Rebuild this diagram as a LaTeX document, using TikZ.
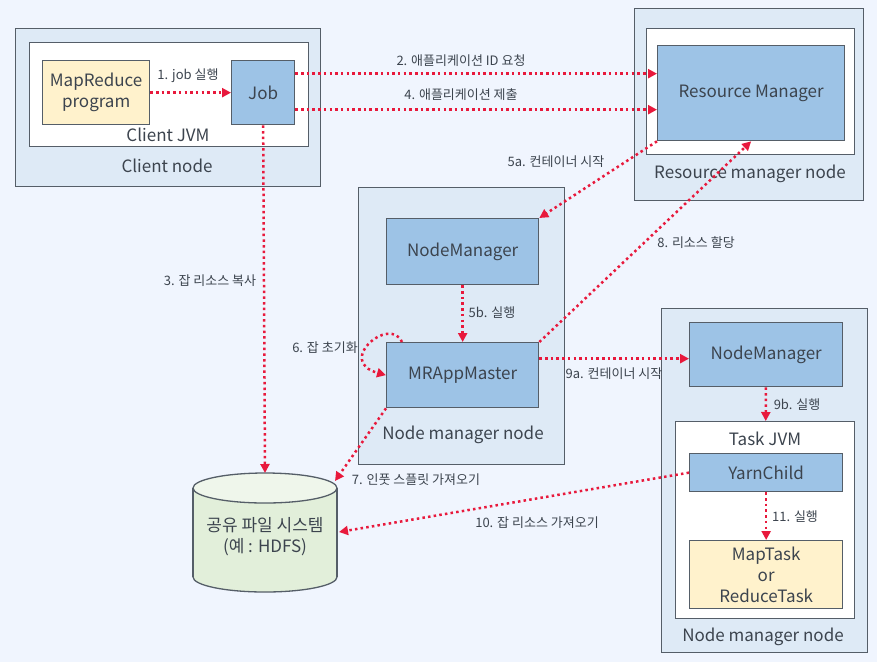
\documentclass[tikz,border=0pt]{standalone}
\usepackage{fontspec}
\setmainfont{Noto Sans CJK KR}
\usetikzlibrary{arrows.meta}

\definecolor{bgblue}{RGB}{240,245,254}
\definecolor{nodeblue}{RGB}{222,234,246}
\definecolor{compblue}{RGB}{157,195,230}
\definecolor{progyellow}{RGB}{255,242,204}
\definecolor{hdfsgreen}{RGB}{226,239,218}
\definecolor{flowred}{RGB}{232,25,60}
\definecolor{edgegray}{RGB}{85,94,104}
\definecolor{textgray}{RGB}{60,68,78}

\begin{document}
\begin{tikzpicture}[x=1pt,y=-1pt,
	font=\fontsize{17}{21}\selectfont, text=textgray,
	box/.style={draw=edgegray, line width=1.3pt, anchor=north west, inner sep=0pt},
	hostbox/.style={box, fill=nodeblue},
	jvmbox/.style={box, fill=white},
	comp/.style={box, fill=compblue, align=center},
	prog/.style={box, fill=progyellow, align=center},
	flow/.style={draw=flowred, line width=2.5pt, dash pattern=on 2.5pt off 3.2pt,
		-{Triangle[length=9pt,width=9pt]}},
	lbl/.style={font=\fontsize{13}{15}\selectfont}]
		% Background
		\fill[bgblue] (0,0) rectangle (877,662);
		
		% Client node
		\node[hostbox, minimum width=305pt, minimum height=158pt] (client) at (15,28) {};
		\node[jvmbox, minimum width=279pt, minimum height=104pt] (clientjvm) at (29,42) {};
		\node[prog, minimum width=107pt, minimum height=64pt] (mrprog) at (42,60) {MapReduce\\program};
		\node[comp, minimum width=63pt, minimum height=64pt] (job) at (231,60) {Job};
		\node (clientjvmlbl) at (168,135) {Client JVM};
		\node (clientlbl) at (167,166) {Client node};
		
		% Resource manager node
		\node[hostbox, minimum width=229pt, minimum height=192pt] (rmhost) at (634,8) {};
		\node[jvmbox, minimum width=208pt, minimum height=126pt] (rmjvm) at (646,28) {};
		\node[comp, minimum width=187pt, minimum height=95pt] (rm) at (657,45) {Resource Manager};
		\node (rmlbl) at (750,174) {Resource manager node};
		
		% Node manager node (application master)
		\node[hostbox, minimum width=206pt, minimum height=277pt] (nmhostA) at (358,187) {};
		\node[comp, minimum width=152pt, minimum height=66pt] (nmA) at (386,218) {NodeManager};
		\node[comp, minimum width=152pt, minimum height=65pt] (mrapp) at (386,342) {MRAppMaster};
		\node (nmhostAlbl) at (463,435) {Node manager node};
		
		% Node manager node (task)
		\node[hostbox, minimum width=206pt, minimum height=344pt] (nmhostB) at (661,308) {};
		\node[comp, minimum width=153pt, minimum height=64pt] (nmB) at (689,322) {NodeManager};
		\node[jvmbox, minimum width=179pt, minimum height=197pt] (taskjvm) at (675,421) {};
		\node (taskjvmlbl) at (765,439) {Task JVM};
		\node[comp, minimum width=153pt, minimum height=38pt] (yarnchild) at (689,453) {YarnChild};
		\node[prog, minimum width=153pt, minimum height=68pt] (task) at (689,540) {MapTask\\or\\ReduceTask};
		\node (nmhostBlbl) at (763,637) {Node manager node};
		
		% Shared file system
		\filldraw[fill=hdfsgreen, draw=edgegray, line width=1.3pt] (265,577) ellipse [x radius=72pt, y radius=15pt];
		\fill[hdfsgreen] (193,488) rectangle (337,577);
		\draw[edgegray, line width=1.3pt] (193,488) -- (193,577) (337,488) -- (337,577);
		\filldraw[fill=hdfsgreen!55!white, draw=edgegray, line width=1.3pt] (265,488) ellipse [x radius=72pt, y radius=15pt];
		\node[align=center] (hdfs) at (265,537) {공유 파일 시스템\\(예 : HDFS)};
		\coordinate (hdfstop) at (265,473);
		\coordinate (hdfsne) at (335,481);
		\coordinate (hdfseast) at (339,532);
		
		% Flows
		\draw[flow] (mrprog) -- (job);
		\draw[flow] ([yshift=19pt]job.east) -- ([yshift=19pt]job.east -| rm.west);
		\draw[flow] ([yshift=-17pt]job.east) -- ([yshift=-17pt]job.east -| rm.west);
		\draw[flow] (job.south) -- (hdfstop);
		\draw[flow] (rm.south west) -- (nmA.north east);
		\draw[flow] (nmA) -- (mrapp);
		\draw[flow] ([xshift=16pt]mrapp.north west) .. controls +(-12pt,27pt) and +(-51pt,14pt) .. (mrapp.west);
		\draw[flow] (mrapp.south west) -- (hdfsne);
		\draw[flow] (mrapp.north east) -- (rm.south);
		\draw[flow] ([yshift=16.5pt]mrapp.east) -- ([yshift=16.5pt]mrapp.east -| nmB.west);
		\draw[flow] (nmB) -- (taskjvm);
		\draw[flow] (yarnchild.west) -- (hdfseast);
		\draw[flow] (yarnchild) -- (task);
		
		% Flow labels
		\node[lbl] (l1) at (188,76) {1. job 실행};
		\node[lbl] (l2) at (461,61) {2. 애플리케이션 ID 요청};
		\node[lbl] (l4) at (461,95) {4. 애플리케이션 제출};
		\node[lbl] (l3) at (210,281) {3. 잡 리소스 복사};
		\node[lbl] (l5a) at (556,162) {5a. 컨테이너 시작};
		\node[lbl] (l5b) at (492,313) {5b. 실행};
		\node[lbl] (l6) at (325,348) {6. 잡 초기화};
		\node[lbl] (l7) at (416,480) {7. 인풋 스플릿 가져오기};
		\node[lbl] (l8) at (696,243) {8. 리소스 할당};
		\node[lbl] (l9a) at (614,374) {9a. 컨테이너 시작};
		\node[lbl] (l9b) at (797,405) {9b. 실행};
		\node[lbl] (l10) at (537,523) {10. 잡 리소스 가져오기};
		\node[lbl] (l11) at (795,517) {11. 실행};
	\end{tikzpicture}
\end{document}
